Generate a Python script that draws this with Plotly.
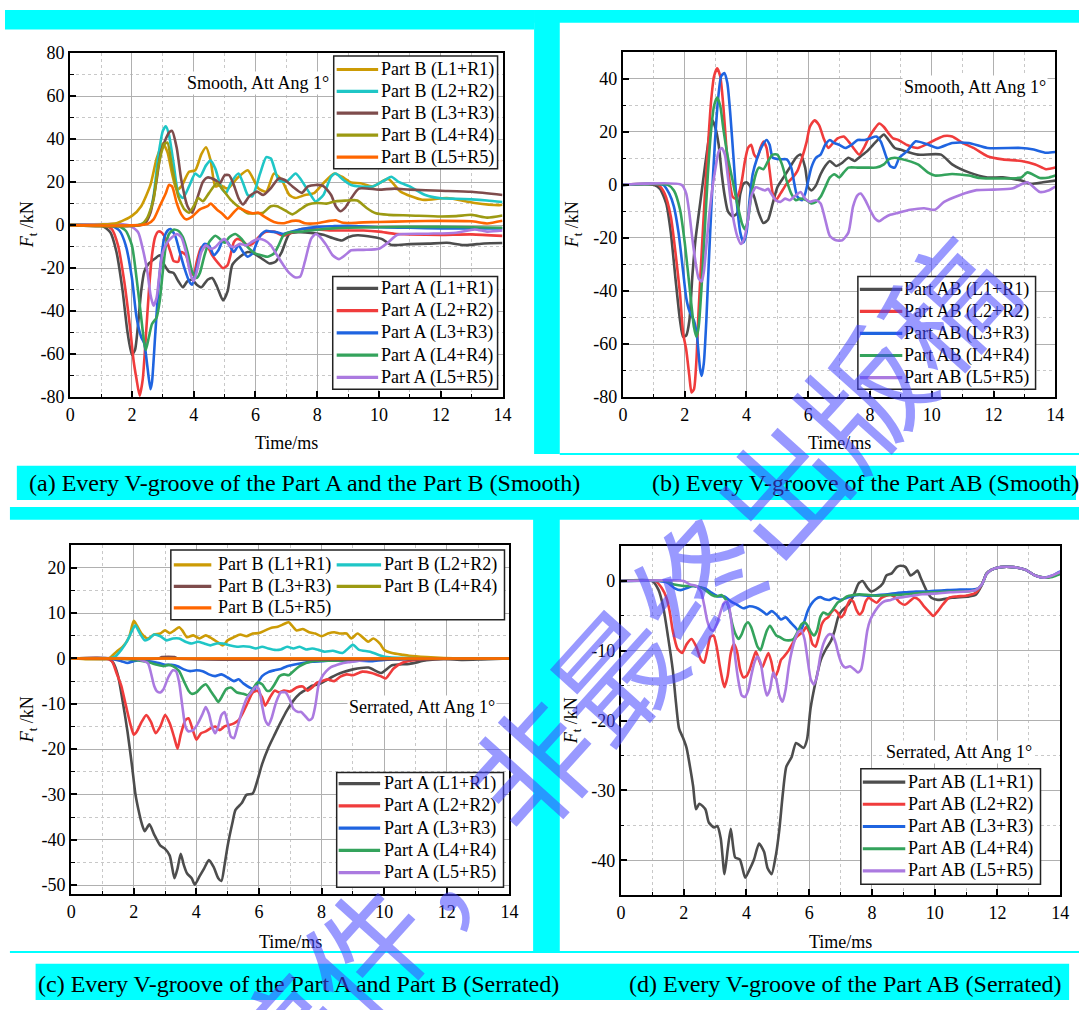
import plotly.graph_objects as go

W, H = 1088, 1010
def fx(p): return p / W
def fy(p): return 1 - p / H

SERIF = "Liberation Serif"

# ---------------- tick labels ----------------
x_ticks = [0, 2, 4, 6, 8, 10, 12, 14]
x_minor = [1, 3, 5, 7, 9, 11, 13]
ya_ticks = [-80, -60, -40, -20, 0, 20, 40, 60, 80]
ya_minor = [-70, -50, -30, -10, 10, 30, 50, 70]
yb_ticks = [-80, -60, -40, -20, 0, 20, 40]
yb_minor = [-70, -50, -30, -10, 10, 30, 50]
yc_ticks = [-50, -40, -30, -20, -10, 0, 10, 20]
yc_minor = [-45, -35, -25, -15, -5, 5, 15, 25]
yd_ticks = [-40, -30, -20, -10, 0]
yd_minor = [-45, -35, -25, -15, -5, 5]

names_A = ["Part A (L1+R1)", "Part A (L2+R2)", "Part A (L3+R3)", "Part A (L4+R4)", "Part A (L5+R5)"]
names_B = ["Part B (L1+R1)", "Part B (L2+R2)", "Part B (L3+R3)", "Part B (L4+R4)", "Part B (L5+R5)"]
names_AB = ["Part AB (L1+R1)", "Part AB (L2+R2)", "Part AB (L3+R3)", "Part AB (L4+R4)", "Part AB (L5+R5)"]

captions = ["(a) Every V-groove of the Part A and the Part B (Smooth)",
            "(b) Every V-groove of the Part AB (Smooth)",
            "(c) Every V-groove of the Part A and Part B (Serrated)",
            "(d) Every V-groove of the Part AB (Serrated)"]

# ---------------- (a) Smooth, Part B ----------------
a_b1_t = [0, 1.0, 1.5, 2.0, 2.3, 2.6, 2.8, 3.0, 3.15, 3.3, 3.45, 3.6, 3.85, 4.05, 4.25, 4.4, 4.55, 4.7, 4.85, 5.1, 5.4, 5.75, 6.1, 6.35, 6.6, 6.85, 7.1, 7.3, 7.6, 7.9, 8.2, 8.55, 8.8, 9.1, 9.4, 9.8, 10.3, 10.7, 11.4, 12.2, 13.1, 13.9, 14.0]
a_b1_f = [0, 0.3, 0.9, 4.3, 8.8, 18.7, 30.9, 38, 34, 24, 16.4, 18, 24.8, 25.5, 33, 36.2, 30, 18, 18.7, 17, 21.7, 25.5, 17, 15.6, 24, 21, 14, 12.6, 14, 14.9, 19.5, 24, 22.5, 19.8, 19.5, 18, 21.5, 15.6, 11.8, 12.6, 10.3, 9.3, 9.5]
a_b2_t = [0, 2.2, 2.4, 2.55, 2.7, 2.85, 3.0, 3.1, 3.2, 3.35, 3.5, 3.65, 3.85, 4.05, 4.2, 4.4, 4.55, 4.7, 4.9, 5.05, 5.2, 5.45, 5.6, 5.75, 5.9, 6.15, 6.35, 6.5, 6.75, 7.0, 7.3, 7.45, 7.75, 7.95, 8.2, 8.45, 8.6, 8.85, 9.1, 9.4, 9.8, 10.2, 10.4, 10.65, 11.0, 11.5, 12.0, 12.5, 13.0, 13.5, 14.0]
a_b2_f = [0, 0, 1.2, 4.3, 13.4, 31.6, 43.8, 46, 42, 28.6, 14.9, 12.6, 18, 24, 22.5, 27.8, 30, 26.3, 17.2, 15, 19.5, 24, 19.5, 14, 13.4, 24, 31.6, 31, 21, 20.2, 24, 21.7, 15, 11, 14, 22.5, 24, 21, 18.7, 18, 18, 21, 22.5, 20, 18, 14, 12.5, 12.3, 12, 11.5, 10.8]
a_b3_t = [0, 2.4, 2.6, 2.8, 2.95, 3.2, 3.3, 3.45, 3.6, 3.8, 3.95, 4.1, 4.3, 4.45, 4.7, 4.85, 5.0, 5.15, 5.3, 5.45, 5.6, 5.8, 6.05, 6.25, 6.5, 6.75, 6.95, 7.2, 7.5, 7.7, 7.95, 8.2, 8.45, 8.6, 8.75, 8.9, 9.1, 9.35, 10.0, 10.5, 11.0, 12.0, 13.0, 14.0]
a_b3_f = [0, 0.5, 5.8, 21, 34.7, 43, 43.8, 36, 21, 8.8, 5.8, 11.8, 20.2, 22.2, 21, 19.5, 23.2, 23.2, 18.7, 12.6, 9.6, 13.4, 15.6, 14, 17.2, 21.7, 21, 18, 15, 18, 18.7, 18.2, 14, 8.8, 6.5, 8.0, 12.5, 17, 16.5, 17, 16.5, 16, 15.5, 14]
a_b4_t = [0, 2.3, 2.5, 2.7, 2.85, 3.05, 3.15, 3.3, 3.5, 3.7, 3.85, 4.0, 4.15, 4.3, 4.5, 4.75, 4.95, 5.2, 5.5, 5.75, 6.0, 6.25, 6.5, 6.7, 7.0, 7.2, 7.45, 7.7, 8.0, 8.3, 8.6, 8.9, 9.3, 9.6, 9.9, 10.3, 11.0, 12.0, 12.5, 13.0, 13.5, 14.0]
a_b4_f = [0, 0.3, 3.5, 11.8, 27, 37.7, 38.4, 27, 13.4, 7.3, 5.8, 8.8, 12.6, 11.1, 15, 19.5, 16.4, 11.8, 8, 5.5, 5.5, 5.8, 8.8, 8.8, 6.5, 5, 7.3, 9.6, 10.3, 10, 11.1, 11.4, 11.5, 8, 5.5, 4.8, 4.5, 4, 4.2, 4.8, 3.5, 4.5]
a_b5_t = [0, 2.5, 2.7, 2.9, 3.1, 3.2, 3.3, 3.45, 3.6, 3.75, 3.95, 4.2, 4.45, 4.55, 4.75, 4.95, 5.1, 5.3, 5.45, 5.7, 5.9, 6.1, 6.3, 6.6, 6.9, 7.2, 7.4, 7.6, 8.0, 8.4, 8.6, 8.8, 9.1, 9.5, 10.0, 11.0, 12.0, 13.0, 13.5, 14.0]
a_b5_f = [0, 0.5, 2.7, 8.8, 15, 18.7, 18, 10.3, 5, 2.7, 4, 7.3, 8.8, 10, 7.3, 5, 3, 6, 8, 6.5, 5.5, 5.8, 3.8, 1.5, 0.9, 2, 2, 0.9, 0.9, 2, 2.3, 1.2, 1, 1.3, 1.5, 1.8, 2, 1.8, 0.8, 2]

# ---------------- (a) Smooth, Part A ----------------
a_a1_t = [0, 1.0, 1.3, 1.5, 1.7, 1.85, 2.0, 2.1, 2.2, 2.3, 2.4, 2.55, 2.75, 2.9, 3.05, 3.2, 3.35, 3.5, 3.65, 3.8, 3.95, 4.1, 4.25, 4.45, 4.6, 4.75, 4.95, 5.1, 5.25, 5.5, 5.75, 5.95, 6.2, 6.45, 6.65, 6.85, 7.1, 7.4, 7.8, 8.2, 8.5, 8.8, 9.0, 9.3, 9.8, 10.1, 10.4, 11.0, 11.6, 12.2, 12.8, 13.4, 14.0]
a_a1_f = [0, 0, -3.3, -12.5, -30.7, -49, -60.3, -58, -46, -30.7, -21.6, -17.8, -15.5, -14, -18.5, -21.6, -22.3, -26, -28.9, -26, -25.4, -27.7, -28.9, -25.4, -24.6, -28.4, -35, -30.7, -18.5, -14.7, -12.5, -13.2, -15.5, -17.8, -17, -12.5, -4, -3.3, -3.6, -4.5, -6, -7.1, -5.6, -4.7, -5.5, -6.5, -9.2, -8.8, -8.6, -8.2, -9.3, -8.5, -8.3]
a_a2_t = [0, 1.1, 1.35, 1.55, 1.75, 1.95, 2.05, 2.15, 2.25, 2.35, 2.45, 2.55, 2.65, 2.75, 2.85, 2.95, 3.1, 3.25, 3.35, 3.5, 3.6, 3.75, 3.9, 4.0, 4.1, 4.25, 4.45, 4.6, 4.8, 4.95, 5.1, 5.3, 5.4, 5.55, 5.75, 5.9, 6.1, 6.3, 6.6, 6.9, 7.2, 7.5, 8.0, 8.5, 9.0, 9.5, 10.0, 10.5, 11.0, 12.0, 13.0, 14.0]
a_a2_f = [0, 0, -1.8, -9.4, -26, -49, -62.6, -71.7, -79.3, -71.7, -52, -30.7, -14, -5.6, -3, -3.3, -6.4, -12.5, -16.7, -17, -12.5, -14, -21.6, -23.1, -17, -10.2, -10.2, -14, -17.8, -20, -18.5, -7.9, -6.4, -7.1, -9.4, -8.7, -5.6, -3.3, -3, -4.9, -3.3, -1.8, -2, -2.5, -2.5, -2.5, -3, -4, -4.3, -4.5, -4.3, -5]
a_a3_t = [0, 1.3, 1.6, 1.8, 2.0, 2.15, 2.3, 2.4, 2.5, 2.6, 2.65, 2.75, 2.85, 2.95, 3.05, 3.15, 3.25, 3.4, 3.55, 3.7, 3.85, 3.95, 4.1, 4.25, 4.35, 4.5, 4.65, 4.8, 4.95, 5.1, 5.3, 5.45, 5.6, 5.75, 5.9, 6.05, 6.2, 6.35, 6.5, 6.7, 6.9, 7.1, 7.5, 8.0, 8.5, 9.0, 10.0, 11.0, 12.0, 13.0, 14.0]
a_a3_f = [0, 0, -2.6, -9.4, -24.6, -42.9, -52, -55, -65.7, -76.3, -73, -52, -30.7, -15.5, -5.6, -2.6, -1.8, -4.9, -12.5, -20, -26, -27.7, -20, -11, -8.7, -9.4, -14, -11.7, -7.1, -7.9, -12.5, -9.4, -12.5, -14.7, -13.2, -7.9, -4.1, -2.6, -3, -3.3, -4.1, -3.3, -1.8, -0.8, -0.5, -0.3, -1, -1.2, -1.5, -1.5, -1.5]
a_a4_t = [0, 1.5, 1.8, 2.0, 2.15, 2.3, 2.4, 2.45, 2.55, 2.65, 2.8, 2.9, 3.0, 3.1, 3.2, 3.35, 3.5, 3.65, 3.8, 3.95, 4.1, 4.2, 4.35, 4.5, 4.7, 4.85, 5.0, 5.15, 5.35, 5.55, 5.75, 6.0, 6.2, 6.4, 6.6, 6.75, 6.9, 7.1, 7.5, 8.0, 8.5, 9.0, 10.0, 11.0, 12.0, 13.0, 14.0]
a_a4_f = [0, 0, -2.6, -9.4, -24.6, -42.9, -55, -58, -52, -46, -42.9, -35.3, -21.6, -9.4, -4.1, -2.1, -2.6, -5.6, -12.5, -21.6, -24.6, -22.3, -14, -7.9, -4.9, -6.4, -8.2, -5.6, -4.1, -6.4, -10.2, -13.2, -14, -14.7, -13.2, -9.4, -4.9, -3.3, -3, -2.1, -1.5, -1.2, -1, -0.8, -0.8, -1, -1.2]
a_a5_t = [0, 1.9, 2.2, 2.35, 2.5, 2.6, 2.7, 2.8, 2.9, 3.0, 3.15, 3.3, 3.45, 3.6, 3.75, 3.9, 4.0, 4.1, 4.25, 4.4, 4.55, 4.7, 4.85, 5.0, 5.15, 5.3, 5.5, 5.7, 5.9, 6.1, 6.3, 6.5, 6.7, 6.9, 7.1, 7.3, 7.45, 7.6, 7.8, 7.95, 8.1, 8.3, 8.5, 8.7, 8.9, 9.1, 9.5, 10.0, 10.3, 10.6, 11.5, 12.5, 13.1, 13.5, 14.0]
a_a5_f = [0, 0, -3.3, -11, -21.6, -32.2, -37.5, -33.7, -21.6, -12.5, -7.9, -5.6, -4.1, -5.6, -12.5, -23.1, -26, -21.6, -12.5, -9.4, -11, -10.2, -7.9, -6.4, -9.4, -10.2, -8.7, -9.4, -7.6, -6.4, -7.1, -9.4, -14, -18.5, -22.3, -24.3, -23.9, -17, -6.4, -4.1, -5.6, -9.4, -14, -15.8, -14, -11.7, -11.5, -11, -8, -4.5, -4, -3.5, -2, -3, -2.5]

# ---------------- (b) Smooth, Part AB ----------------
b1_t = [0, 1.0, 1.2, 1.4, 1.55, 1.7, 1.85, 1.95, 2.05, 2.15, 2.25, 2.35, 2.5, 2.65, 2.8, 2.9, 3.0, 3.1, 3.2, 3.3, 3.4, 3.55, 3.7, 3.8, 3.9, 4.0, 4.1, 4.25, 4.4, 4.55, 4.7, 4.85, 5.0, 5.2, 5.4, 5.6, 5.75, 5.9, 6.0, 6.1, 6.25, 6.4, 6.55, 6.7, 6.9, 7.1, 7.3, 7.5, 7.7, 7.9, 8.1, 8.3, 8.45, 8.6, 8.8, 9.0, 9.55, 10.3, 10.66, 11.2, 11.8, 12.3, 12.9, 13.2, 13.6, 14.0]
b1_f = [0, 0, -1.5, -7, -18, -35.2, -51.2, -57.3, -56.7, -51.2, -34, -20.5, -7, 6.5, 18.8, 24.3, 21.2, 15.1, 4, -4.5, -10, -11.9, -10.7, -3.3, 0.4, 1, -0.2, -4.5, -10.7, -14.4, -13.1, -7, -0.9, 2.8, 6.5, 10.2, 11.4, 6.5, -0.9, -2.1, -0.2, 4, 7.1, 9, 7.1, 8.3, 10.2, 9, 10.8, 12.6, 15.1, 17.5, 19, 16.9, 13.9, 13.2, 11.4, 11.4, 7.7, 4.7, 2.8, 2.8, 1.6, 0.4, 1.0, 1.6]
b2_t = [0, 1.15, 1.35, 1.55, 1.7, 1.85, 1.95, 2.05, 2.15, 2.22, 2.3, 2.38, 2.45, 2.55, 2.65, 2.75, 2.85, 2.95, 3.05, 3.15, 3.25, 3.35, 3.45, 3.55, 3.65, 3.75, 3.85, 3.95, 4.05, 4.15, 4.25, 4.35, 4.45, 4.55, 4.65, 4.75, 4.85, 4.95, 5.1, 5.3, 5.5, 5.65, 5.8, 5.95, 6.05, 6.2, 6.35, 6.5, 6.65, 6.8, 6.95, 7.15, 7.35, 7.5, 7.65, 7.8, 7.95, 8.15, 8.3, 8.45, 8.6, 8.75, 8.92, 9.2, 9.55, 10.1, 10.4, 10.66, 11.0, 11.35, 11.8, 12.3, 12.9, 13.35, 13.7, 14.0]
b2_f = [0, 0, -3.3, -11.9, -25.4, -41.3, -56, -62.2, -72, -78.2, -77, -65.9, -47.5, -25.4, -4.5, 13.9, 31, 40.9, 43.9, 40.9, 29.8, 13.9, 1.6, -4.5, -5.2, -3.3, 1.6, 9, 13.9, 15.1, 11.4, 10.2, 13.9, 16.3, 13.9, 5.3, -3.3, -5.8, -3.3, 0.4, 2.8, 5.3, 10.2, 16.3, 21.8, 24.3, 22.5, 17.5, 13.9, 15.7, 17.5, 18.2, 15.7, 13.3, 11.4, 13.9, 17.5, 21.2, 23.1, 21.8, 19.4, 17.5, 16.9, 15, 13.9, 16.9, 18.4, 18.2, 15.8, 13.9, 10.8, 9.6, 9.0, 7.7, 5.9, 6.5]
b3_t = [0, 1.3, 1.5, 1.65, 1.8, 1.95, 2.05, 2.15, 2.3, 2.4, 2.5, 2.55, 2.62, 2.7, 2.78, 2.88, 2.98, 3.08, 3.18, 3.28, 3.38, 3.48, 3.58, 3.68, 3.8, 3.9, 4.0, 4.1, 4.2, 4.35, 4.5, 4.65, 4.75, 4.85, 5.1, 5.3, 5.45, 5.55, 5.65, 5.8, 5.9, 6.0, 6.1, 6.25, 6.4, 6.55, 6.7, 6.85, 7.0, 7.2, 7.4, 7.6, 7.8, 8.0, 8.2, 8.35, 8.5, 8.65, 8.8, 8.95, 9.2, 9.48, 9.87, 10.2, 10.66, 11.2, 11.8, 12.9, 13.3, 13.7, 14.0]
b3_f = [0, 0, -3.3, -8.2, -18, -32.8, -42.6, -47.5, -51.2, -57.3, -69.6, -72, -67.1, -51.2, -29.1, -4.5, 16.3, 32.3, 40.9, 42.1, 38.4, 26.1, 10.2, -5.8, -18, -21.7, -18, -5.8, 4, 10.2, 14.5, 16.9, 15.1, 10.2, 9.6, 9.6, 6.5, 0.4, -4.5, -5.8, -3.3, 1.6, 6.5, 10.2, 11.4, 15.1, 16.9, 15.7, 15.1, 13.9, 15.1, 16.9, 16.9, 17.5, 18.2, 16.3, 11.4, 7.1, 6.5, 10.2, 12.7, 16.4, 15.2, 13.9, 15.8, 15.8, 13.9, 13.9, 13.3, 12.1, 12.4]
b4_t = [0, 1.45, 1.65, 1.85, 2.0, 2.15, 2.3, 2.38, 2.45, 2.55, 2.65, 2.75, 2.85, 2.95, 3.05, 3.15, 3.25, 3.4, 3.55, 3.7, 3.85, 3.95, 4.05, 4.15, 4.3, 4.4, 4.55, 4.7, 4.85, 5.0, 5.15, 5.3, 5.45, 5.6, 5.75, 5.95, 6.1, 6.25, 6.4, 6.55, 6.7, 6.85, 7.0, 7.15, 7.3, 7.6, 7.9, 8.2, 8.45, 8.6, 8.8, 8.95, 9.55, 9.87, 10.1, 10.66, 11.2, 11.55, 12.3, 12.9, 13.1, 13.5, 13.8, 14.0]
b4_f = [0, 0, -2.1, -9.4, -21.7, -37.7, -53.6, -57.3, -53.6, -37.7, -16.8, 4, 20, 29.8, 32.9, 29.8, 21.2, 10.2, 1.6, -7, -14.4, -16.8, -13.1, -4.5, 4, 6.5, 5.9, 9, 11.4, 11.4, 7.7, 1.6, -3.3, -5.8, -5.2, -5.8, -7, -6.4, -4.5, -0.9, 2.8, 4, 2.8, 4.7, 6.5, 6.5, 6.5, 6.5, 7.7, 9.6, 10.2, 9.9, 7.7, 4.7, 3.5, 4.1, 3.5, 2.6, 2.4, 2.8, 4.7, 2.6, 2.8, 3.5]
b5_t = [0, 1.9, 2.05, 2.15, 2.25, 2.35, 2.45, 2.55, 2.62, 2.7, 2.8, 2.9, 3.0, 3.1, 3.2, 3.3, 3.4, 3.5, 3.6, 3.7, 3.82, 3.92, 4.05, 4.15, 4.3, 4.45, 4.6, 4.7, 4.8, 4.95, 5.1, 5.25, 5.4, 5.6, 5.75, 5.9, 6.05, 6.25, 6.4, 6.55, 6.7, 6.9, 7.1, 7.3, 7.45, 7.6, 7.7, 7.85, 8.0, 8.15, 8.3, 8.45, 8.65, 8.85, 9.3, 9.75, 10.1, 10.4, 10.9, 11.45, 12.0, 12.6, 12.9, 13.1, 13.5, 13.8, 14.0]
b5_f = [0, 0, -3.3, -10.7, -20.5, -29.1, -35.2, -36.4, -32.8, -23, -10.7, -0.9, 6.5, 12.6, 13.9, 11.4, 2.8, -7, -14.4, -19.3, -22.3, -20.5, -13.1, -4.5, -0.9, -1.5, -2.1, -1.5, -3.3, -5.8, -6.4, -5.2, -5.8, -3.9, -2.7, -5.2, -6.4, -5.8, -7, -13.1, -19.3, -20.9, -20.9, -18, -8.2, -3.9, -3.3, -5.8, -9.4, -12.5, -13.7, -12.5, -11.3, -10.7, -9.4, -8.8, -9.4, -6.4, -3.9, -2, -1.8, -1.4, 0.2, 1.0, -2.7, -2, -0.7]

# ---------------- (c) Serrated, Part B ----------------
c_b1_t = [0, 1.2, 1.45, 1.65, 1.85, 2.0, 2.1, 2.25, 2.45, 2.65, 2.85, 3.0, 3.15, 3.3, 3.45, 3.55, 3.7, 3.9, 4.1, 4.3, 4.5, 4.7, 4.85, 5.0, 5.2, 5.4, 5.6, 5.8, 6.0, 6.2, 6.4, 6.6, 6.8, 6.95, 7.05, 7.2, 7.4, 7.6, 7.8, 8.0, 8.2, 8.4, 8.6, 8.8, 8.95, 9.15, 9.49, 9.65, 9.87, 10.0, 10.25, 10.6, 10.8, 11.35, 11.9, 12.5, 14.0]
c_b1_f = [0, 0, 1.5, 2.6, 4.7, 8.3, 7.3, 5.5, 4.4, 5.3, 5.5, 6.2, 5.6, 6.2, 6.9, 6.2, 4.7, 5.1, 4.4, 5.1, 4.4, 3.5, 2.9, 4, 4.7, 5.3, 4.9, 5.5, 5.6, 6.2, 6.8, 7, 7.6, 8, 7.3, 6.2, 6.5, 5.8, 5.5, 4.9, 5.5, 5.8, 5.5, 5.5, 4.4, 5.5, 3.7, 4.4, 3.2, 1.9, 1.2, 0.8, 0.6, 0.3, 0.1, 0, 0]
c_b2_t = [0, 1.2, 1.4, 1.6, 1.8, 1.95, 2.05, 2.2, 2.35, 2.5, 2.65, 2.85, 3.05, 3.25, 3.45, 3.65, 3.85, 4.05, 4.25, 4.45, 4.65, 4.85, 5.05, 5.3, 5.5, 5.7, 5.9, 6.1, 6.3, 6.5, 6.7, 6.9, 7.1, 7.3, 7.5, 7.7, 7.9, 8.1, 8.36, 8.67, 9.0, 9.2, 9.55, 10.0, 10.8, 14.0]
c_b2_f = [0, 0, 0.4, 1.9, 4, 6.2, 7.3, 5.5, 4, 4.4, 5.3, 4.9, 4, 4.4, 4.4, 3.7, 3.3, 3.7, 3.3, 2.9, 3.3, 3.3, 2.9, 2.6, 2.7, 2.6, 2.2, 2.6, 2.2, 1.9, 2, 2.6, 2.2, 2.6, 2, 2.2, 1.9, 1.5, 1.7, 1.2, 3, 1.9, 1.5, 0.4, 0.1, 0]
c_b3_t = [0, 2.8, 2.9, 3.3, 3.4, 14.0]
c_b3_f = [0, 0, 0.3, 0.3, 0, 0]
c_b4_t = [0, 14.0]
c_b4_f = [0, 0]
c_b5_t = [0, 14.0]
c_b5_f = [0, 0]

# ---------------- (c) Serrated, Part A ----------------
c_a1_t = [0, 1.2, 1.35, 1.5, 1.65, 1.8, 1.95, 2.05, 2.15, 2.25, 2.35, 2.5, 2.65, 2.85, 3.0, 3.15, 3.3, 3.4, 3.5, 3.6, 3.7, 3.85, 3.95, 4.1, 4.25, 4.4, 4.55, 4.7, 4.8, 4.9, 5.0, 5.15, 5.25, 5.45, 5.6, 5.8, 5.95, 6.1, 6.3, 6.5, 6.7, 6.9, 7.1, 7.3, 7.5, 7.7, 7.9, 8.1, 8.3, 8.5, 8.7, 9.0, 9.5, 9.9, 10.25, 10.8, 11.35, 11.9, 12.5, 13.1, 14.0]
c_a1_f = [0, 0, -1, -3.9, -9.6, -16.1, -24, -29.8, -33.4, -36.3, -38.1, -36.6, -38.8, -41.3, -42, -43.5, -48.5, -46.3, -43.1, -45.6, -47.4, -48.5, -49.9, -48.1, -46.3, -44.5, -46, -48.5, -49.1, -45.6, -41.3, -36.3, -33.4, -31.9, -30.1, -29.8, -26.9, -23.3, -19.7, -16.8, -14, -11.4, -9.3, -7.8, -6.9, -6, -5.7, -5, -4.2, -3.5, -3, -2.4, -2, -3.2, -1.5, -1.2, -0.4, -0.1, -0.3, -0.2, 0]
c_a2_t = [0, 1.1, 1.3, 1.45, 1.6, 1.75, 1.9, 2.0, 2.1, 2.25, 2.4, 2.55, 2.7, 2.85, 3.0, 3.15, 3.3, 3.4, 3.5, 3.65, 3.75, 3.9, 4.0, 4.15, 4.3, 4.45, 4.6, 4.75, 4.9, 5.05, 5.2, 5.35, 5.5, 5.65, 5.8, 5.95, 6.1, 6.2, 6.35, 6.5, 6.65, 6.8, 7.0, 7.2, 7.4, 7.55, 7.7, 7.85, 8.0, 8.2, 8.4, 8.6, 8.8, 9.0, 9.3, 9.6, 9.88, 10.05, 10.3, 10.6, 10.95, 11.4, 14.0]
c_a2_f = [0, 0, -0.6, -3.2, -6, -10.4, -14.7, -16.8, -16.1, -14, -12.5, -14, -16.5, -15, -12.5, -14.3, -17.6, -19.9, -16.8, -13.6, -13.2, -16.1, -17.9, -16.5, -16.1, -15.4, -15, -15.8, -15, -14.7, -14.3, -13.6, -11.8, -9.6, -7.5, -7.1, -8.6, -10.4, -8.6, -7.1, -7.5, -7.1, -7.3, -6.4, -6.2, -7.1, -6.4, -5.3, -5, -4.6, -5, -4, -3.5, -3.7, -2.9, -3.2, -3.9, -4.4, -2.2, -0.9, -0.4, -0.1, 0]
c_a3_t = [0, 1.2, 1.6, 1.8, 2.0, 2.2, 2.5, 2.8, 3.0, 3.2, 3.4, 3.6, 3.8, 4.0, 4.2, 4.4, 4.6, 4.8, 5.0, 5.2, 5.35, 5.5, 5.7, 5.85, 5.95, 6.1, 6.3, 6.5, 6.7, 6.9, 7.1, 7.4, 7.7, 8.0, 8.4, 8.8, 9.2, 9.6, 10.0, 10.5, 11.0, 14.0]
c_a3_f = [0, 0, -0.6, -1, -0.6, -0.3, -0.6, -1, -1.4, -1.4, -1.7, -2.4, -2.8, -2.6, -2.8, -3.5, -3.9, -3.5, -4.2, -5, -4.6, -5.5, -6.4, -6.8, -5.5, -3.9, -3, -2.6, -2.3, -1.7, -1.4, -1, -0.7, -0.6, -0.4, -0.7, -0.5, -0.6, -0.3, -0.2, 0, 0]
c_a4_t = [0, 1.5, 2.0, 2.3, 2.5, 2.75, 2.95, 3.1, 3.25, 3.45, 3.6, 3.75, 3.85, 4.0, 4.15, 4.3, 4.45, 4.6, 4.7, 4.8, 4.95, 5.1, 5.3, 5.5, 5.65, 5.8, 5.95, 6.1, 6.25, 6.35, 6.5, 6.65, 6.8, 6.95, 7.1, 7.3, 7.5, 7.7, 8.0, 8.4, 8.8, 9.5, 10.0, 14.0]
c_a4_f = [0, 0, -0.3, -0.6, -0.9, -1.4, -1.7, -1.4, -1.7, -2.8, -5, -7.1, -7.8, -7.5, -6.4, -5.7, -7.1, -8.6, -9.6, -8.6, -6.8, -6.4, -7.5, -7.8, -8.1, -6.8, -5.3, -5.7, -7.1, -7.1, -5.7, -3.9, -3.5, -3.7, -2.8, -1.7, -1, -0.6, -0.5, -0.5, -0.4, -0.2, 0, 0]
c_a5_t = [0, 2.0, 2.2, 2.45, 2.55, 2.65, 2.75, 2.85, 2.95, 3.1, 3.25, 3.35, 3.45, 3.55, 3.65, 3.75, 3.9, 4.05, 4.2, 4.3, 4.4, 4.5, 4.6, 4.7, 4.8, 4.9, 5.0, 5.1, 5.2, 5.3, 5.45, 5.6, 5.75, 5.9, 6.0, 6.1, 6.2, 6.3, 6.4, 6.55, 6.7, 6.85, 7.0, 7.1, 7.25, 7.35, 7.5, 7.6, 7.7, 7.8, 7.9, 8.0, 8.15, 8.3, 8.5, 8.7, 8.9, 9.2, 9.6, 10.0, 14.0]
c_a5_f = [0, 0, -0.3, -1, -3.2, -6, -7.3, -7.5, -6.8, -4.2, -2.6, -2.8, -5.3, -10.4, -15, -16.1, -15.8, -14.3, -12.2, -10.7, -12.2, -15, -16.5, -15, -12.5, -11.8, -14.3, -17.2, -17.6, -15.4, -11.8, -8.9, -7.5, -6.2, -6.8, -10.4, -13.6, -14.7, -13.2, -9.6, -7.5, -7.5, -9.3, -11.1, -11.8, -11.8, -12.9, -13.6, -13.2, -10.4, -6, -4.2, -2.8, -1.9, -1.4, -1, -0.8, -0.5, -0.2, 0, 0]

# ---------------- (d) Serrated, Part AB ----------------
d1_t = [0, 1.0, 1.2, 1.35, 1.5, 1.65, 1.75, 1.85, 1.98, 2.09, 2.2, 2.3, 2.39, 2.5, 2.69, 2.8, 2.97, 3.07, 3.18, 3.3, 3.4, 3.5, 3.64, 3.79, 3.96, 4.07, 4.24, 4.4, 4.56, 4.67, 4.8, 4.94, 5.05, 5.16, 5.27, 5.44, 5.58, 5.82, 5.93, 6.04, 6.2, 6.37, 6.54, 6.7, 6.81, 6.92, 7.03, 7.25, 7.42, 7.58, 7.7, 7.86, 7.97, 8.19, 8.35, 8.46, 8.63, 8.79, 8.9, 9.07, 9.23, 9.34, 9.45, 9.56, 9.73, 9.89, 10.1, 10.55, 11.1, 11.3, 11.5, 11.65, 11.8, 12.1, 12.5, 12.9, 13.2, 13.5, 13.75, 14.0]
d1_f = [0, 0, -1.3, -3.8, -8, -12.7, -17.3, -21.1, -22.5, -23.9, -26.6, -29.4, -32.7, -31.9, -32.7, -34.6, -35.3, -35.1, -36.9, -42, -38.5, -35.5, -39.6, -39.9, -42.5, -41.6, -39.9, -37.6, -38.8, -41.1, -42, -39.2, -35.5, -30.4, -26.6, -25.2, -23.2, -23.9, -22.7, -18.3, -14.5, -11.3, -9.7, -8.5, -7.1, -5.2, -4.3, -3.4, -2, -0.3, 0, -1, -1.5, -1, -0.3, 0.8, 1.1, 2, 2.2, 2, 0.8, 1.1, 1.5, 0.4, -1.3, -2.4, -2.7, -2.4, -2.2, -2, -0.6, 1.1, 1.6, 2.0, 2.0, 1.6, 0.8, 0.5, 0.7, 1.2]
d2_t = [0, 1.1, 1.3, 1.45, 1.55, 1.65, 1.8, 1.95, 2.1, 2.25, 2.4, 2.55, 2.65, 2.75, 2.85, 2.95, 3.05, 3.15, 3.25, 3.3, 3.4, 3.5, 3.6, 3.7, 3.8, 3.9, 4.0, 4.1, 4.2, 4.3, 4.4, 4.5, 4.6, 4.7, 4.8, 4.9, 5.0, 5.1, 5.2, 5.35, 5.5, 5.6, 5.7, 5.8, 5.9, 6.0, 6.1, 6.2, 6.3, 6.4, 6.5, 6.6, 6.7, 6.8, 6.9, 7.0, 7.1, 7.2, 7.3, 7.4, 7.5, 7.6, 7.7, 7.8, 7.9, 8.0, 8.15, 8.3, 8.45, 8.6, 8.75, 8.9, 9.05, 9.2, 9.35, 9.5, 9.65, 9.8, 9.95, 10.1, 10.25, 10.45, 10.7, 11.0, 11.3, 11.5, 11.65, 11.8, 12.1, 12.5, 12.9, 13.2, 13.5, 13.75, 14.0]
d2_f = [0, 0, -1, -2.4, -4.3, -7.1, -9.7, -10.3, -9, -8.3, -9.4, -11.3, -11.7, -9.9, -8, -7.8, -9.4, -12.2, -14.5, -15.2, -13.6, -10.3, -9, -10.1, -12.7, -13.8, -13.6, -12.7, -11.3, -10.1, -11.3, -12.4, -11.3, -10.3, -11.7, -13.8, -12.9, -11.3, -10.8, -9.9, -8.7, -8, -7.6, -7.3, -6.6, -7.3, -9, -9.4, -8, -6.2, -5.5, -5.2, -4.5, -4.1, -4.5, -5.2, -4.8, -3.6, -2.7, -2.9, -4.1, -4.8, -4.3, -2.9, -2.4, -2.7, -3.1, -2.4, -2.1, -2, -2.4, -3.1, -3.4, -2.9, -2.4, -2.7, -3.6, -4.3, -5, -4.3, -3.4, -2.4, -2.2, -2.1, -1.7, -0.5, 1.0, 1.6, 2.0, 2.0, 1.6, 0.8, 0.5, 0.7, 1.2]
d3_t = [0, 1.2, 1.5, 1.7, 1.9, 2.1, 2.3, 2.5, 2.7, 2.9, 3.1, 3.3, 3.5, 3.7, 3.9, 4.1, 4.3, 4.5, 4.65, 4.8, 4.95, 5.1, 5.25, 5.4, 5.55, 5.65, 5.75, 5.85, 5.95, 6.05, 6.2, 6.35, 6.5, 6.65, 6.8, 7.0, 7.2, 7.4, 7.6, 7.9, 8.2, 8.5, 8.8, 9.1, 9.4, 9.7, 10.0, 10.4, 10.8, 11.2, 11.4, 11.5, 11.65, 11.8, 12.1, 12.5, 12.9, 13.2, 13.5, 13.75, 14.0]
d3_f = [0, 0, -0.3, -1, -1.3, -1, -0.7, -0.9, -1.1, -1.7, -2.2, -2.2, -2.9, -3.4, -3.9, -3.6, -3.8, -4.3, -4.8, -4.3, -4.8, -5.5, -5.2, -5.9, -6.6, -7.1, -6.9, -5.7, -4.3, -3.4, -2.6, -2.3, -2.6, -2.7, -2.4, -2.7, -2.4, -2.1, -2, -2.1, -2, -1.9, -1.7, -1.6, -1.5, -1.5, -1.4, -1.3, -1.2, -1.2, -1.0, -0.5, 1.0, 1.6, 2.0, 2.0, 1.6, 0.8, 0.5, 0.8, 1.4]
d4_t = [0, 1.4, 1.7, 2.0, 2.3, 2.55, 2.75, 2.9, 3.05, 3.2, 3.35, 3.45, 3.55, 3.65, 3.75, 3.85, 3.95, 4.05, 4.15, 4.25, 4.35, 4.45, 4.55, 4.65, 4.75, 4.85, 4.95, 5.05, 5.2, 5.35, 5.5, 5.65, 5.75, 5.85, 5.95, 6.05, 6.15, 6.25, 6.35, 6.45, 6.6, 6.75, 6.9, 7.05, 7.2, 7.4, 7.6, 7.9, 8.2, 8.5, 8.8, 9.1, 9.5, 10.0, 10.5, 11.0, 11.3, 11.5, 11.65, 11.8, 12.1, 12.5, 12.9, 13.2, 13.5, 13.75, 14.0]
d4_f = [0, 0, -0.5, -0.7, -0.7, -0.9, -1.5, -2, -2.2, -2, -2.7, -4.1, -6.2, -7.6, -8.3, -7.6, -6.4, -5.9, -6.6, -8, -9.4, -9.9, -8.5, -7.1, -6.4, -7.1, -7.8, -8, -8.4, -8.5, -8.3, -7.1, -6.2, -5.9, -6.4, -7.3, -7.8, -7.1, -5.2, -4.5, -4.8, -4.1, -3.1, -2.7, -2.2, -2, -1.9, -2, -2.1, -2, -2, -1.9, -1.7, -1.6, -1.5, -1.5, -1.3, -0.5, 1.0, 1.6, 2.0, 2.0, 1.6, 0.8, 0.5, 0.6, 1.0]
d5_t = [0, 2.0, 2.2, 2.4, 2.55, 2.65, 2.75, 2.85, 2.95, 3.05, 3.15, 3.25, 3.35, 3.45, 3.55, 3.65, 3.75, 3.85, 3.95, 4.05, 4.15, 4.25, 4.35, 4.45, 4.55, 4.65, 4.75, 4.85, 4.95, 5.05, 5.15, 5.25, 5.35, 5.45, 5.55, 5.65, 5.75, 5.85, 5.95, 6.05, 6.15, 6.25, 6.35, 6.45, 6.55, 6.65, 6.75, 6.85, 6.95, 7.05, 7.15, 7.3, 7.45, 7.55, 7.65, 7.75, 7.85, 7.95, 8.1, 8.25, 8.4, 8.6, 8.8, 9.0, 9.3, 9.6, 10.0, 10.5, 11.0, 11.3, 11.5, 11.65, 11.8, 12.1, 12.5, 12.9, 13.2, 13.5, 13.75, 14.0]
d5_f = [0, 0, -0.5, -0.7, -1.5, -3.4, -5.7, -6.9, -7.1, -6.2, -4.8, -3.4, -2.9, -3.8, -7.1, -11.3, -14.5, -16.4, -16.6, -15.7, -13.6, -11.7, -10.8, -11.7, -14.5, -16.4, -15.5, -13.1, -14.1, -16.4, -17.3, -15.5, -12.2, -9.9, -8.3, -7.3, -7.1, -8.3, -11.3, -14.1, -14.8, -13.6, -10.8, -9, -8, -7.6, -7.8, -9, -10.8, -12, -12.4, -12.2, -12.7, -13.1, -12.7, -10.3, -7.1, -5.5, -4.3, -3.4, -2.9, -2.7, -2.4, -2.3, -2.1, -1.9, -1.8, -1.6, -1.5, -1.3, -0.5, 1.0, 1.6, 2.0, 2.0, 1.6, 0.8, 0.5, 0.8, 1.3]

# ---------------- styles ----------------
COL_A = ["#4d4d4d", "#f03c3c", "#1f64e0", "#34a35c", "#ab7ae0"]
COL_B = ["#cc9b05", "#1fc6c6", "#7e4c4c", "#9c9a12", "#ff6600"]
CYAN = "#00ffff"
GRID = "#b0b0b0"
MINOR = "#c8c8c8"
LW = 2.6

fig = go.Figure()

def add(t, f, name, color, xa, ya):
    assert len(t) == len(f), name
    fig.add_trace(go.Scatter(
        x=t, y=f, mode="lines", name=name, showlegend=False,
        line=dict(color=color, width=LW, shape="spline", smoothing=0.6),
        xaxis=xa, yaxis=ya, hoverinfo="skip"))

# (a)
for t, f, n, c in zip([a_a1_t, a_a2_t, a_a3_t, a_a4_t, a_a5_t],
                      [a_a1_f, a_a2_f, a_a3_f, a_a4_f, a_a5_f], names_A, COL_A):
    add(t, f, n, c, "x", "y")
for t, f, n, c in zip([a_b1_t, a_b2_t, a_b3_t, a_b4_t, a_b5_t],
                      [a_b1_f, a_b2_f, a_b3_f, a_b4_f, a_b5_f], names_B, COL_B):
    add(t, f, n, c, "x", "y")
# (b)
for t, f, n, c in zip([b1_t, b2_t, b3_t, b4_t, b5_t],
                      [b1_f, b2_f, b3_f, b4_f, b5_f], names_AB, COL_A):
    add(t, f, n, c, "x2", "y2")
# (c)
for t, f, n, c in zip([c_a1_t, c_a2_t, c_a3_t, c_a4_t, c_a5_t],
                      [c_a1_f, c_a2_f, c_a3_f, c_a4_f, c_a5_f], names_A, COL_A):
    add(t, f, n, c, "x3", "y3")
for t, f, n, c in zip([c_b1_t, c_b2_t, c_b3_t, c_b4_t, c_b5_t],
                      [c_b1_f, c_b2_f, c_b3_f, c_b4_f, c_b5_f], names_B, COL_B):
    add(t, f, n, c, "x3", "y3")
# (d)
for t, f, n, c in zip([d1_t, d2_t, d3_t, d4_t, d5_t],
                      [d1_f, d2_f, d3_f, d4_f, d5_f], names_AB, COL_A):
    add(t, f, n, c, "x4", "y4")

tickfont = dict(family=SERIF, size=18, color="black")

def xax(l, r, anchor):
    return dict(domain=[fx(l), fx(r)], range=[0, 14], anchor=anchor,
                tickmode="array", tickvals=x_ticks, ticktext=[str(v) for v in x_ticks],
                ticks="inside", ticklen=6, tickwidth=1.5, tickcolor="black",
                showline=True, linecolor="black", linewidth=2, mirror=True,
                showgrid=True, gridcolor=GRID, gridwidth=1.3, zeroline=False,
                tickfont=tickfont,
                minor=dict(tickvals=x_minor, ticks="inside", ticklen=3.5, tickwidth=1.2,
                           tickcolor="black", showgrid=True, gridcolor=MINOR,
                           griddash="dot", gridwidth=1))

def yax(t, b, rng, ticks, minor, anchor):
    return dict(domain=[fy(b), fy(t)], range=rng, anchor=anchor,
                tickmode="array", tickvals=ticks, ticktext=[str(v) for v in ticks],
                ticks="inside", ticklen=6, tickwidth=1.5, tickcolor="black",
                showline=True, linecolor="black", linewidth=2, mirror=True,
                showgrid=True, gridcolor=GRID, gridwidth=1.3, zeroline=False,
                tickfont=tickfont,
                minor=dict(tickvals=minor, ticks="inside", ticklen=3.5, tickwidth=1.2,
                           tickcolor="black", showgrid=True, gridcolor=MINOR,
                           griddash="dot", gridwidth=1))

def rect(x0, y0, x1, y1, color=CYAN, layer="below", line=None):
    d = dict(type="rect", xref="paper", yref="paper",
             x0=fx(x0), x1=fx(x1), y0=fy(y1), y1=fy(y0),
             fillcolor=color, layer=layer, line=dict(width=0))
    if line:
        d["line"] = line
    return d

shapes = [
    rect(0, 0, 536, 20), rect(536, 0, 1088, 13),
    rect(536, 0, 562, 453), rect(562, 452, 1088, 454),
    rect(12, 465, 1085, 500),
    rect(5, 507, 1088, 520),
    rect(535, 507, 562, 961), rect(5, 960, 1088, 962),
    rect(31, 973, 1078, 1010),
]

ann = []
def text(x, y, s, size=18, xanchor="center", angle=0, bg=None, font=SERIF, color="black"):
    d = dict(x=fx(x), y=fy(y), xref="paper", yref="paper", text=s, showarrow=False,
             xanchor=xanchor, yanchor="middle", textangle=angle,
             font=dict(family=font, size=size, color=color))
    if bg:
        d["bgcolor"] = bg
    ann.append(d)

# ---- legends drawn as boxed entries (line sample + label) ----
def legend_box(box, entries):
    shapes.append(rect(*box, color="white", layer="above",
                       line=dict(color="#222222", width=1.5)))
    for name, color, lx0, lx1, tx, y in entries:
        shapes.append(dict(type="line", xref="paper", yref="paper",
                           x0=fx(lx0), x1=fx(lx1), y0=fy(y), y1=fy(y),
                           line=dict(color=color, width=3.2), layer="above"))
        text(tx - 2, y, name, size=18, xanchor="left")

rows_aB = [60.7, 83.0, 105.3, 127.7, 150.0]
rows_aA = [284.0, 306.7, 329.3, 352.0, 374.7]
rows_b = [285.0, 307.5, 330.0, 352.5, 375.0]
rows_cA = [789.3, 812.0, 834.7, 857.3, 880.0]
rows_d = [787.7, 810.3, 833.0, 855.7, 878.3]
rows_cB = [566.0, 588.0, 610.0]

legend_box((333, 47, 499, 162), [(n, c, 336, 378, 381, y) for n, c, y in zip(names_B, COL_B, rows_aB)])
legend_box((332, 272, 499, 387), [(n, c, 336, 378, 381, y) for n, c, y in zip(names_A, COL_A, rows_aA)])
legend_box((864, 272, 1044, 387), [(n, c, 866, 909, 911, y) for n, c, y in zip(names_AB, COL_A, rows_b)])
legend_box((336, 778, 505, 895), [(n, c, 338, 380, 384, y) for n, c, y in zip(names_A, COL_A, rows_cA)])
legend_box((867, 774, 1049, 892), [(n, c, 869, 912, 915, y) for n, c, y in zip(names_AB, COL_A, rows_d)])
cB_entries = []
for i, (n, c) in enumerate(zip(names_B, COL_B)):
    col, row = i % 2, i // 2
    if col == 0:
        cB_entries.append((n, c, 171, 209, 216, rows_cB[row]))
    else:
        cB_entries.append((n, c, 336, 381, 384, rows_cB[row]))
legend_box((168, 551, 506, 622), cB_entries)

for cx, cy in [(285, 442), (845, 442), (289, 951), (846, 951)]:
    text(cx, cy, "Time/ms")
for cx, cy in [(24, 219), (576, 219), (24, 724), (575, 725)]:
    text(cx, cy, "<i>F</i><sub>t</sub> /kN", angle=-90)
text(256, 74, "Smooth, Att Ang 1°", bg="white")
text(983, 79, "Smooth, Att Ang 1°", bg="white")
text(422, 711, "Serrated, Att Ang 1°", bg="white")
text(966, 757, "Serrated, Att Ang 1°", bg="white")
text(22, 483, captions[0], size=24, xanchor="left")
text(653, 483, captions[1], size=24, xanchor="left")
text(31, 994, captions[2], size=24, xanchor="left")
text(630, 994, captions[3], size=24, xanchor="left")
# watermark
text(530, 768, "录用稿件，非最终出版稿", size=124, angle=-48,
     font="Noto Sans CJK SC", color="rgba(70,70,255,0.55)")

fig.update_layout(
    width=W, height=H, margin=dict(l=0, r=0, t=0, b=0),
    paper_bgcolor="white", plot_bgcolor="white", showlegend=False,
    xaxis=xax(66, 504, "y"), yaxis=yax(44, 395, [-80, 80], ya_ticks, ya_minor, "x"),
    xaxis2=xax(626, 1064, "y2"), yaxis2=yax(43, 395, [-80, 50], yb_ticks, yb_minor, "x2"),
    xaxis3=xax(67, 511, "y3"), yaxis3=yax(546, 902, [-52, 25], yc_ticks, yc_minor, "x3"),
    xaxis4=xax(624, 1069, "y4"), yaxis4=yax(547, 903, [-45, 5], yd_ticks, yd_minor, "x4"),
    shapes=shapes, annotations=ann,
)

fig.write_html("out.html")
